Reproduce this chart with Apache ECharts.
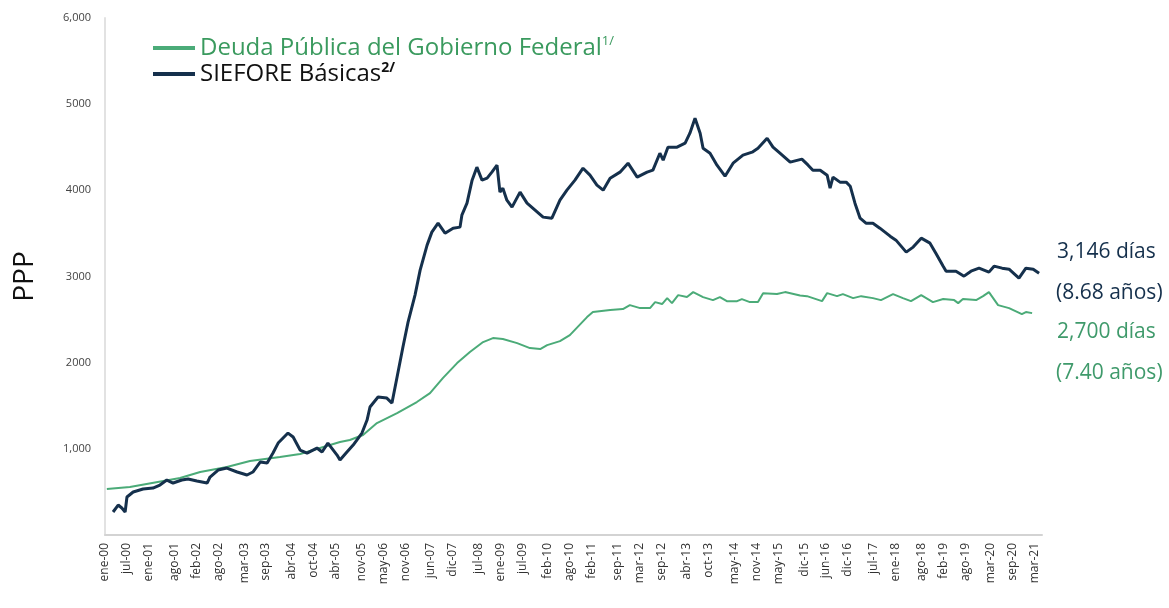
<!DOCTYPE html>
<html>
<head>
<meta charset="utf-8">
<title>PPP</title>
<script src="https://cdn.jsdelivr.net/npm/echarts@6/dist/echarts.min.js"></script>
<style>
  html, body { margin: 0; padding: 0; background: #fff; }
  #chart { width: 1169px; height: 608px; }
</style>
</head>
<body>
<div id="chart"></div>
<script>
// meses del eje (ene-00 ... may-21), indice 0 = ene-00
var mesesAbr = ['ene','feb','mar','abr','may','jun','jul','ago','sep','oct','nov','dic']
var meses = []
for (var a = 2000; a <= 2021; a++) {
  for (var m = 0; m < 12; m++) {
    if (a === 2021 && m > 4) break
    meses.push(mesesAbr[m] + '-' + String(a).slice(2))
  }
}

// etiquetas visibles del eje x
var etiquetasX = ['ene-00','jul-00','ene-01','ago-01','feb-02','ago-02','mar-03','sep-03','abr-04','oct-04',
  'abr-05','nov-05','may-06','nov-06','jun-07','dic-07','jul-08','ene-09','jul-09','feb-10',
  'ago-10','feb-11','sep-11','mar-12','sep-12','abr-13','oct-13','may-14','nov-14','may-15',
  'dic-15','jun-16','dic-16','jul-17','ene-18','ago-18','feb-19','ago-19','mar-20','sep-20','mar-21']

// etiquetas del eje y (0 sin etiqueta)
var etiquetasY = ['', '1,000', '2000', '3000', '4000', '5000', '6,000']

// [mes, dias]
var deudaGobierno = [[0.5,534],[6.8,557],[20.5,661],[26.0,731],[33.3,789],[39.6,858],[47.8,905],[53.3,940],
  [64.2,1079],[66.9,1102],[70.5,1160],[74.3,1299],[79.8,1415],[85.2,1543],[88.8,1647],[92.3,1821],
  [96.2,1995],[99.7,2123],[103.3,2239],[106.0,2285],[108.7,2274],[112.6,2227],[116.1,2169],[118.9,2158],
  [120.8,2204],[124.3,2250],[127.0,2320],[131.7,2529],[133.3,2587],[138.0,2610],[141.5,2622],[143.4,2668],
  [146.2,2633],[148.9,2633],[150.3,2703],[152.2,2680],[153.6,2749],[154.9,2691],[156.6,2784],[159.0,2761],
  [160.7,2819],[163.4,2761],[166.1,2726],[168.0,2761],[169.9,2714],[172.7,2714],[174.0,2738],[176.2,2703],
  [178.4,2703],[179.8,2807],[183.6,2796],[185.8,2819],[189.9,2780],[191.8,2772],[195.9,2714],[197.3,2807],
  [200.0,2772],[201.6,2796],[204.4,2749],[206.6,2772],[209.8,2749],[212.0,2726],[215.3,2796],[218.0,2749],
  [220.2,2714],[223.0,2784],[226.2,2703],[229.0,2738],[232.0,2726],[233.1,2691],[234.4,2738],[238.0,2726],
  [239.9,2772],[241.5,2819],[244.0,2668],[247.0,2633],[250.5,2564],[251.6,2587],[253.3,2575]]

var sieforeBasicas = [[2.2,267],[3.6,348],[4.6,313],[5.5,267],[6.0,441],[7.7,499],[10.4,534],[13.1,545],
  [15.0,580],[16.9,638],[18.6,603],[21.0,638],[22.7,650],[25.1,626],[27.9,603],[28.7,673],[30.9,754],
  [33.3,777],[36.1,731],[38.8,696],[40.4,731],[42.4,847],[44.3,835],[45.9,951],[47.3,1067],[50.0,1183],
  [51.4,1137],[53.3,986],[55.2,951],[57.9,1009],[59.3,963],[60.9,1067],[63.4,928],[64.2,870],[66.1,963],
  [67.8,1044],[70.2,1183],[71.6,1334],[72.4,1485],[74.6,1601],[77.0,1589],[78.4,1531],[79.8,1833],
  [81.4,2181],[82.8,2471],[84.7,2784],[86.1,3074],[88.0,3364],[89.3,3515],[91.0,3619],[92.9,3503],
  [95.1,3561],[97.0,3573],[97.5,3712],[98.9,3851],[100.3,4118],[101.6,4269],[103.0,4118],[104.4,4141],
  [105.7,4211],[107.1,4292],[107.9,3979],[108.7,4025],[109.8,3886],[111.2,3805],[113.4,3979],[115.3,3851],
  [117.5,3770],[119.7,3689],[122.1,3677],[124.3,3886],[126.2,4002],[128.4,4118],[130.6,4257],[132.5,4176],
  [134.4,4060],[136.1,4002],[138.0,4141],[140.7,4211],[142.9,4315],[145.4,4153],[148.1,4211],[149.7,4234],
  [151.6,4431],[152.5,4350],[153.8,4501],[156.3,4501],[158.5,4547],[159.8,4663],[161.2,4837],[162.6,4663],
  [163.4,4489],[165.3,4431],[167.2,4292],[169.4,4164],[171.6,4315],[174.3,4408],[176.8,4443],[178.4,4489],
  [180.9,4605],[182.5,4501],[184.4,4431],[187.2,4327],[190.4,4362],[192.1,4292],[193.4,4234],[195.4,4234],
  [197.3,4176],[198.1,4025],[198.9,4153],[200.8,4095],[202.5,4095],[203.6,4048],[204.9,3851],[206.3,3677],
  [207.9,3619],[209.8,3619],[211.7,3561],[214.5,3468],[216.1,3422],[218.9,3283],[220.8,3341],[223.0,3445],
  [225.4,3387],[227.0,3271],[229.0,3120],[229.8,3062],[232.5,3062],[234.7,3004],[236.6,3062],[238.8,3097],
  [241.5,3051],[242.9,3120],[245.1,3097],[247.0,3085],[249.7,2981],[251.6,3097],[253.6,3085],[255.2,3039]]

var verde = '#4bab78'
var azul = '#15304c'

var chart = echarts.init(document.getElementById('chart'))
var option = {
  backgroundColor: '#fff',
  animation: false,
  grid: { left: 105, right: 127, top: 18, bottom: 73 },
  legend: {
    orient: 'vertical',
    left: 148,
    top: 30,
    itemWidth: 42,
    itemHeight: 4,
    itemGap: 1,
    icon: 'rect',
    textStyle: { fontFamily: 'Open Sans', fontSize: 24 },
    formatter: function (name) {
      if (name === 'SIEFORE Básicas') return '{t|' + name + '}{s2|2/}'
      return '{t|' + name + '}{s1|1/}'
    },
    data: [
      { name: 'Deuda Pública del Gobierno Federal', textStyle: { color: '#3a9a5e',
        rich: { t: { fontSize: 24, lineHeight: 26 }, s1: { fontSize: 13, verticalAlign: 'top', lineHeight: 14 } } } },
      { name: 'SIEFORE Básicas', textStyle: { color: '#111',
        rich: { t: { fontSize: 24, lineHeight: 26 }, s2: { fontSize: 14, fontWeight: 'bold', verticalAlign: 'top', lineHeight: 14 } } } }
    ]
  },
  xAxis: [{
    type: 'category',
    data: meses,
    boundaryGap: false,
    axisLine: { lineStyle: { color: '#d3d3d3', width: 2 } },
    axisTick: { show: false },
    axisLabel: {
      interval: function (i, v) { return etiquetasX.indexOf(v) >= 0 },
      rotate: 90,
      margin: 8,
      fontSize: 12,
      fontFamily: 'Open Sans',
      color: '#333'
    },
    splitLine: { show: false }
  }, {
    type: 'value',
    min: 0,
    max: meses.length - 1,
    show: false
  }],
  yAxis: {
    type: 'value',
    min: 0,
    max: 6000,
    interval: 1000,
    name: 'PPP',
    nameLocation: 'middle',
    nameGap: 66,
    nameTextStyle: { fontSize: 28, fontFamily: 'Open Sans', color: '#111' },
    axisLine: { show: true, lineStyle: { color: '#e2e2e2', width: 2 } },
    axisTick: { show: false },
    splitLine: { show: false },
    axisLabel: {
      margin: 14,
      fontSize: 11,
      fontFamily: 'Open Sans',
      color: '#444',
      formatter: function (v) { return etiquetasY[v / 1000] }
    }
  },
  series: [{
    name: 'Deuda Pública del Gobierno Federal',
    type: 'line',
    xAxisIndex: 1,
    data: deudaGobierno,
    symbol: 'none',
    color: verde,
    lineStyle: { color: verde, width: 2 }
  }, {
    name: 'SIEFORE Básicas',
    type: 'line',
    xAxisIndex: 1,
    data: sieforeBasicas,
    symbol: 'none',
    color: azul,
    lineStyle: { color: azul, width: 3 }
  }],
  graphic: [
    { type: 'text', left: 1057, top: 242, style: { text: '3,146 días', fill: azul, fontSize: 21, fontFamily: 'Open Sans' } },
    { type: 'text', left: 1056, top: 283, style: { text: '(8.68 años)', fill: azul, fontSize: 21, fontFamily: 'Open Sans' } },
    { type: 'text', left: 1057, top: 322, style: { text: '2,700 días', fill: '#3f9a6b', fontSize: 21, fontFamily: 'Open Sans' } },
    { type: 'text', left: 1056, top: 363, style: { text: '(7.40 años)', fill: '#3f9a6b', fontSize: 21, fontFamily: 'Open Sans' } }
  ]
}
chart.setOption(option)
</script>
</body>
</html>
